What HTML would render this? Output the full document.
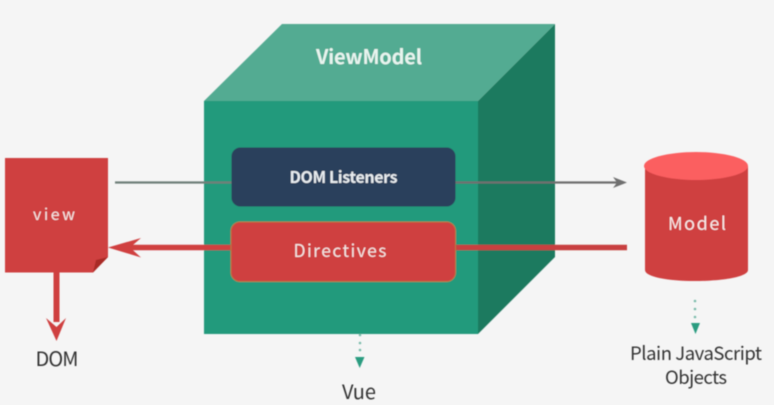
<!DOCTYPE html>
<html>
<head>
<meta charset="utf-8">
<style>
html,body{margin:0;padding:0;background:#f5f5f5;}
svg{display:block;}
text{font-family:"Noto Sans CJK SC","Liberation Sans",sans-serif;}
</style>
</head>
<body>
<svg width="774" height="405" viewBox="0 0 774 405" xmlns="http://www.w3.org/2000/svg">
<defs><filter id="b" x="-5%" y="-5%" width="110%" height="110%"><feGaussianBlur stdDeviation="0.5"/></filter></defs>
<rect width="774" height="405" fill="#f5f5f5"/>
<g filter="url(#b)">
<!-- cube -->
<polygon points="204,101 282,24 555,24 478,101" fill="#52ab92"/>
<polygon points="478,101 555,24 555,257 478,334" fill="#1e7a5f"/>
<rect x="204" y="101" width="274" height="233" fill="#229a7b"/>
<!-- gray line -->
<line x1="115" y1="182.500" x2="232" y2="182.500" stroke="#6f7f79" stroke-width="2.200"/>
<line x1="455" y1="182.500" x2="617" y2="182.500" stroke="#6f6f6f" stroke-width="2.200"/>
<polygon points="627,182.500 613,177 617,182.500 613,188" fill="#6f6f6f"/>
<!-- red line -->
<line x1="130" y1="247.500" x2="232" y2="247.500" stroke="#d03f40" stroke-width="5.500"/>
<line x1="455" y1="247.500" x2="627" y2="247.500" stroke="#c8403f" stroke-width="5.500"/>
<polygon points="108,247.500 141,238 130,247.500 141,257.500" fill="#d03f40"/>
<!-- boxes -->
<rect x="231.500" y="147.500" width="224" height="59" rx="9" fill="#2b405b"/>
<rect x="231" y="222" width="224.500" height="59.500" rx="9" fill="#cf3f3f" stroke="#b9773f" stroke-width="1"/>
<text x="343.500" y="183" font-size="16" font-weight="700" fill="#e8ecef" text-anchor="middle" textLength="108" lengthAdjust="spacing">DOM Listeners</text>
<text x="340" y="257" font-size="17.500" font-weight="400" fill="#f3e6e4" text-anchor="middle" textLength="93" lengthAdjust="spacing">Directives</text>
<text x="369" y="64" font-size="20" font-weight="700" fill="#e8f4ef" text-anchor="middle" textLength="106" lengthAdjust="spacing">ViewModel</text>
<!-- view -->
<polygon points="5,158 108,158 108,257 93,272.500 5,272.500" fill="#cf3f3f"/>
<polygon points="93,272.500 96,260 108,257" fill="#a92b27"/>
<text x="54" y="220" font-size="16" font-weight="400" fill="#f5e6e4" text-anchor="middle" textLength="42" lengthAdjust="spacing">view</text>
<!-- DOM arrow -->
<rect x="53.500" y="272" width="6" height="50" fill="#cf3f3f"/>
<polygon points="56.500,341 46,318 56.500,327 66,318" fill="#cf3f3f"/>
<text x="57" y="366" font-size="20" fill="#333" text-anchor="middle" textLength="43" lengthAdjust="spacing">DOM</text>
<!-- Model cylinder -->
<path d="M645,166 V270 C645,277 668,281 695,281 C722,281 748,277 748,270 V166 Z" fill="#cf3f3f"/>
<ellipse cx="696" cy="166" rx="52" ry="14" fill="#fb5f60"/>
<text x="697" y="230" font-size="18" font-weight="400" fill="#f8ebe9" text-anchor="middle" textLength="58" lengthAdjust="spacing">Model</text>
<!-- dotted arrows -->
<circle cx="695" cy="301" r="1.300" fill="#7cbcab"/><circle cx="695" cy="309" r="1.300" fill="#7cbcab"/><circle cx="695" cy="317" r="1.300" fill="#7cbcab"/>
<polygon points="691,323 700,323 695.500,334" fill="#2b9c80"/>
<circle cx="360" cy="335" r="1.300" fill="#7cbcab"/><circle cx="360" cy="343" r="1.300" fill="#7cbcab"/><circle cx="360" cy="350" r="1.300" fill="#7cbcab"/>
<polygon points="355,357 364.500,357 359.700,368" fill="#2b9c80"/>
<!-- labels -->
<text x="359" y="399" font-size="20" fill="#333" text-anchor="middle" textLength="34" lengthAdjust="spacing">Vue</text>
<text x="696" y="360" font-size="18.500" fill="#333" text-anchor="middle" textLength="132" lengthAdjust="spacing">Plain JavaScript</text>
<text x="696" y="384" font-size="18.500" fill="#333" text-anchor="middle" textLength="62" lengthAdjust="spacing">Objects</text>
</g>
</svg>
</body>
</html>
